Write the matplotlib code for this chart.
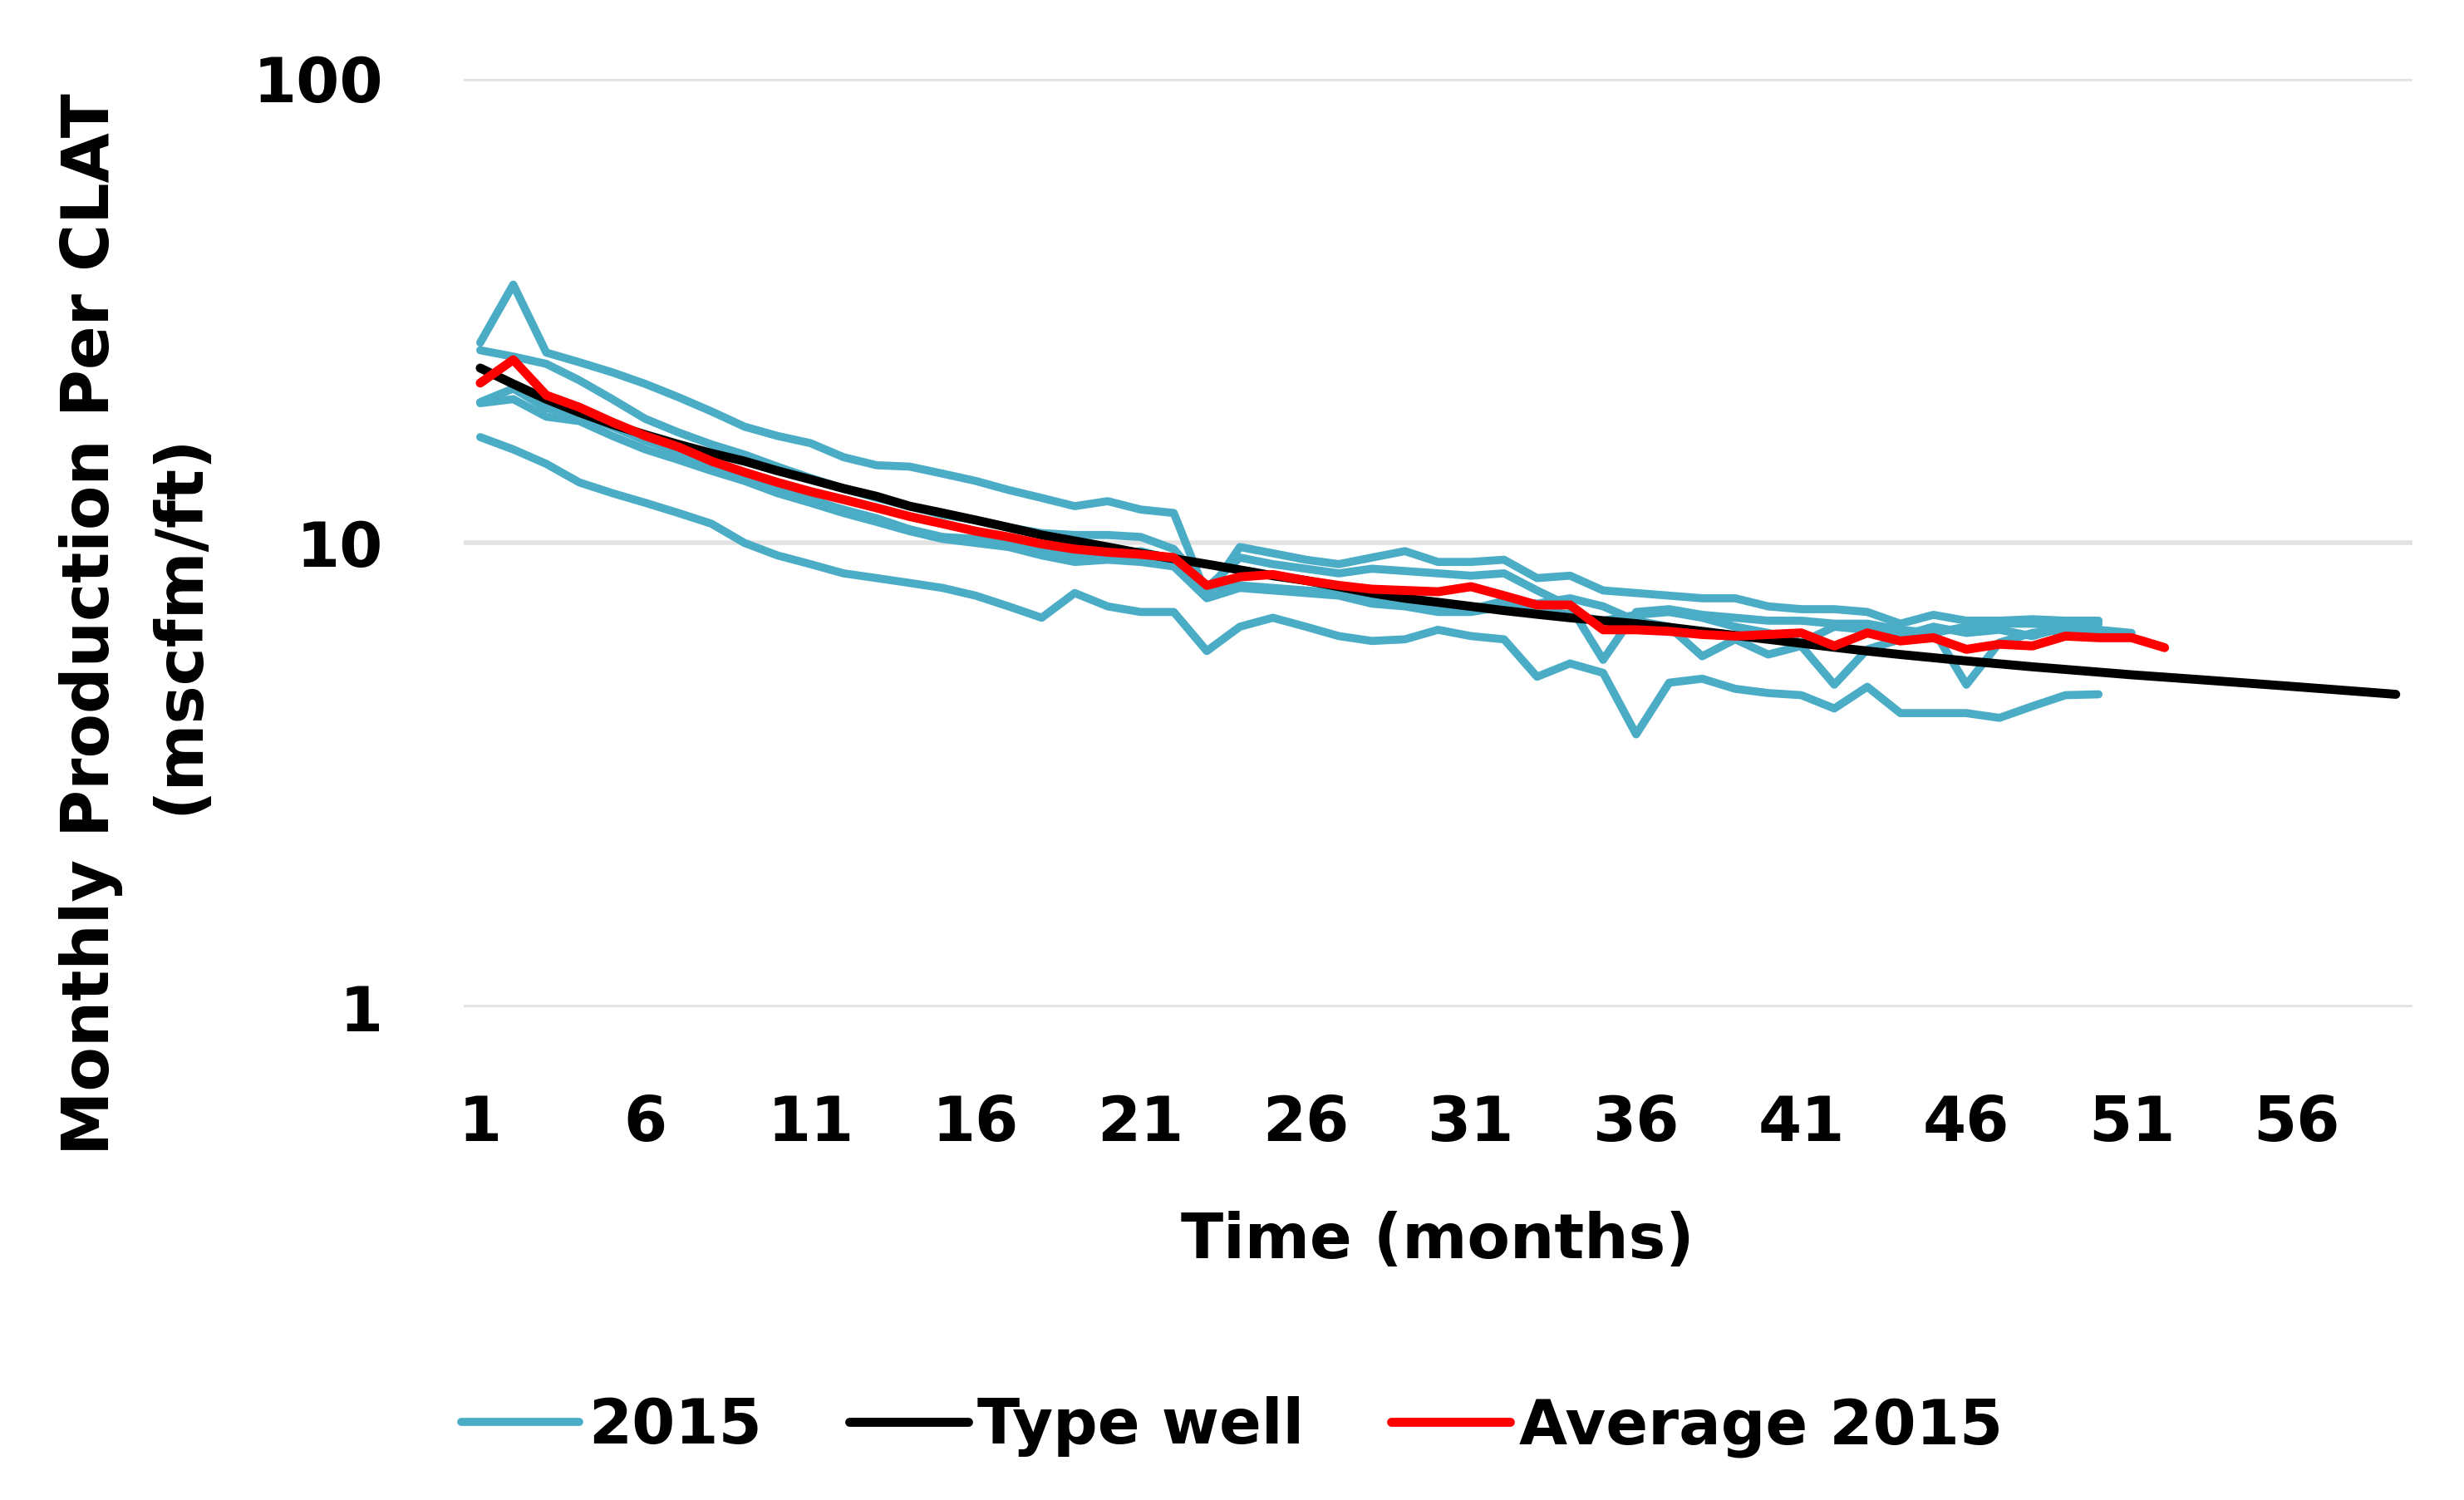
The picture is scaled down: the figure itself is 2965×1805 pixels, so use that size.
import numpy as np
import matplotlib
matplotlib.use('Agg')
import matplotlib.pyplot as plt
from matplotlib.ticker import FixedLocator, NullLocator

# monthly production per CLAT, mscfm/ft
well_a = [27.0, 36.0, 25.7, 24.5, 23.3, 22.0, 20.6, 19.2, 17.8, 17.0, 16.4, 15.3, 14.7, 14.6,
          14.1, 13.6, 13.0, 12.5, 12.0, 12.3, 11.8, 11.6, 7.7, 9.8, 9.5, 9.2, 9.0, 9.3, 9.6,
          9.1, 9.1, 9.2, 8.4, 8.5, 7.9, 7.8, 7.7, 7.6, 7.6, 7.3, 7.2, 7.2, 7.1, 6.7, 7.0,
          6.8, 6.8, 6.85, 6.8, 6.8]
well_b = [26.0, 25.2, 24.3, 22.4, 20.4, 18.5, 17.3, 16.3, 15.5, 14.6, 13.8, 13.1, 12.5, 12.0,
          11.5, 11.2, 10.8, 10.5, 10.4, 10.4, 10.3, 9.7, 8.0, 9.3, 9.0, 8.8, 8.6, 8.8, 8.7,
          8.6, 8.5, 8.6, 7.9, 7.3, 5.6, 7.1, 7.2, 7.0, 6.9, 6.8, 6.8, 6.7, 6.7, 6.5, 6.4,
          6.6, 6.7, 6.7, 6.6, 6.5, 6.4]
well_c = [20.1, 21.5, 19.5, 18.9, 17.8, 16.6, 15.7, 14.8, 14.0, 13.0, 12.4, 11.8, 11.3, 10.7,
          10.3, 10.2, 10.0, 9.6, 9.4, 9.4, 9.6, 9.2, 8.0, 8.1, 8.0, 7.9, 7.8, 7.6, 7.4,
          7.25, 7.2, 7.5, 7.4, 7.6, 7.3, 6.8, 6.6, 5.7, 6.2, 5.75, 6.0, 4.95, 5.9, 6.2, 6.5,
          4.95, 6.1, 6.4, 6.5, 6.5]
well_d = [20.0, 20.4, 18.7, 18.3, 17.0, 15.9, 15.1, 14.3, 13.6, 12.8, 12.2, 11.6, 11.1, 10.6,
          10.2, 10.0, 9.8, 9.4, 9.1, 9.2, 9.1, 8.9, 7.6, 8.0, 7.9, 7.8, 7.7, 7.4, 7.3,
          7.1, 7.1, 7.3, 7.2, 7.0, 6.8, 7.0, 7.1, 6.9, 6.6, 6.4, 6.1, 6.6, 6.5, 6.3, 6.6,
          6.4, 6.5, 6.3, 6.6, 6.7]
well_e = [16.9, 15.9, 14.8, 13.5, 12.8, 12.2, 11.6, 11.0, 10.0, 9.4, 9.0, 8.6, 8.4, 8.2,
          8.0, 7.7, 7.3, 6.9, 7.8, 7.3, 7.1, 7.1, 5.85, 6.6, 6.9, 6.6, 6.3, 6.15, 6.2,
          6.5, 6.3, 6.2, 5.15, 5.5, 5.25, 3.87, 5.0, 5.1, 4.85, 4.75, 4.7, 4.4, 4.9, 4.3, 4.3,
          4.3, 4.2, 4.45, 4.7, 4.72]
wells = [well_a, well_b, well_c, well_d, well_e]

type_well = [23.8, 22.0, 20.4, 19.1, 18.0, 17.1, 16.3, 15.6, 15.0, 14.3, 13.7, 13.1, 12.6, 12.0,
             11.6, 11.2, 10.8, 10.4, 10.1, 9.8, 9.5, 9.25, 9.0, 8.75, 8.5, 8.3, 8.05, 7.8, 7.6,
             7.45, 7.3, 7.15, 7.02, 6.9, 6.8, 6.7, 6.58, 6.45, 6.32, 6.2, 6.08, 5.96, 5.85, 5.75,
             5.66, 5.57, 5.49, 5.41, 5.34, 5.27, 5.2, 5.14, 5.08, 5.02, 4.96, 4.9, 4.84, 4.78, 4.72]

average_2015 = [22.1, 24.8, 20.8, 19.6, 18.2, 17.0, 16.1, 15.0, 14.2, 13.5, 12.9, 12.4, 11.9, 11.4,
                11.0, 10.6, 10.3, 9.95, 9.7, 9.55, 9.45, 9.3, 8.1, 8.45, 8.55, 8.3, 8.1, 7.95, 7.9,
                7.85, 8.05, 7.7, 7.35, 7.35, 6.5, 6.5, 6.45, 6.35, 6.3, 6.35, 6.4, 6.0, 6.4, 6.15,
                6.25, 5.9, 6.05, 6.0, 6.3, 6.25, 6.25, 5.95]

x_ticks = list(range(1, 60, 5))
y_ticks = [1, 10, 100]
y_tick_labels = ['1', '10', '100']

BLUE = '#4BACC6'

plt.rcParams['font.family'] = 'DejaVu Sans'
plt.rcParams['font.weight'] = 'bold'

fig = plt.figure(figsize=(29.65, 18.05), dpi=100)
ax = fig.add_axes([0.1882, 0.3285, 0.7908, 0.6191])

for i, w in enumerate(wells):
    ax.plot(np.arange(1, len(w) + 1), w, color=BLUE, lw=7,
            solid_joinstyle='round', solid_capstyle='round',
            label='2015' if i == 0 else None, zorder=2)
ax.plot(np.arange(1, len(type_well) + 1), type_well, color='black', lw=7.8,
        solid_capstyle='round', label='Type well', zorder=3)
ax.plot(np.arange(1, len(average_2015) + 1), average_2015, color='#FF0000', lw=7.8,
        solid_joinstyle='round', solid_capstyle='round', label='Average 2015', zorder=4)

ax.set_yscale('log')
ax.set_ylim(1, 100)
ax.set_xlim(0.5, 59.5)
ax.yaxis.set_major_locator(FixedLocator(y_ticks))
ax.yaxis.set_minor_locator(NullLocator())
ax.set_yticklabels(y_tick_labels)
ax.set_xticks(x_ticks)
ax.set_xticklabels([str(t) for t in x_ticks])
ax.tick_params(axis='both', length=0, labelsize=54)
ax.tick_params(axis='y', pad=70)
ax.tick_params(axis='x', pad=75)
for lab in ax.get_xticklabels() + ax.get_yticklabels():
    lab.set_fontweight('bold')

ax.grid(axis='y', which='major', color='#E2E2E2', lw=4)
ax.grid(axis='x', visible=False)
ax.set_axisbelow(True)
for s in ax.spines.values():
    s.set_visible(False)

fig.text(163 / 2965, 1 - 751 / 1805, 'Monthly Production Per CLAT\n(mscfm/ft)',
         rotation=90, ha='center', va='center', multialignment='center',
         fontsize=56, fontweight='bold', linespacing=1.5)
fig.text(1730 / 2965, 1 - 1494 / 1805, 'Time (months)', ha='center', va='center',
         fontsize=54, fontweight='bold')

fig.legend(loc='center', bbox_to_anchor=(0.5, 1 - 1717 / 1805), ncol=3, frameon=False,
           handlelength=1.9, handletextpad=0.15, columnspacing=1.4,
           prop={'weight': 'bold', 'size': 54})

fig.savefig('out.png', dpi=100)
